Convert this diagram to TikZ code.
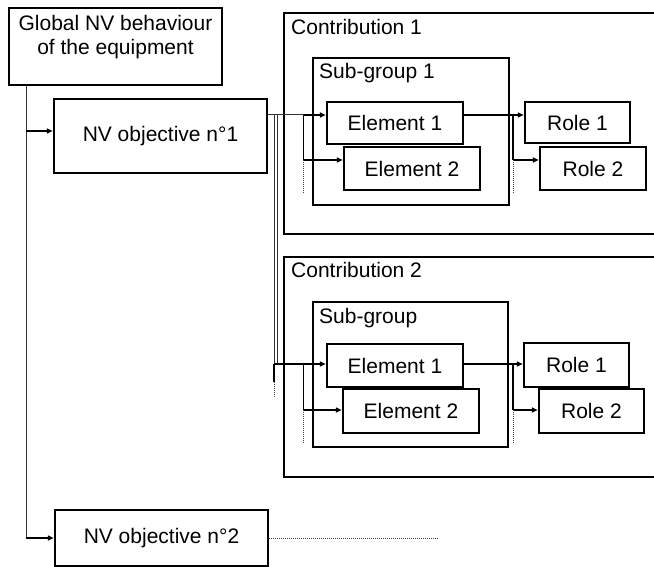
\documentclass[tikz,border=0pt]{standalone}
\usepackage{fontspec}
\setmainfont{Liberation Sans}
\usetikzlibrary{arrows.meta}
\begin{document}
\begin{tikzpicture}[x=1pt,y=-1pt,
  box/.style={draw, line width=2.5pt, inner sep=0pt, font=\fontsize{21}{24}\selectfont},
  lbl/.style={inner sep=0pt, anchor=base west, font=\fontsize{21}{24}\selectfont},
  thinline/.style={line width=1pt, draw=black!80},
  arr/.style={line width=1.6pt, -{Triangle[length=6pt,width=5pt]}},
  feed/.style={line width=1.6pt},
  dots/.style={line width=1pt, draw=black!75, dash pattern=on 1pt off 1pt}
]
\useasboundingbox (0,0) rectangle (654,567);
\clip (0,0) rectangle (654,567);

% left column
\node[box, minimum width=213pt, minimum height=77pt] (glob) at (115.5,46.5) {};
\node[inner sep=0pt, align=center, font=\fontsize{21}{23.5}\selectfont] (globtxt) at (115.5,37) {Global NV behaviour\\of the equipment};
\node[box, minimum width=213pt, minimum height=74pt] (obj1) at (160.5,136) {NV objective n°1};
\node[box, minimum width=213pt, minimum height=56pt] (obj2) at (161.5,538) {NV objective n°2};

% contribution 1
\node[box, minimum width=396pt, minimum height=221pt] (c1) at (482,123.5) {};
\node[lbl] (c1txt) at (291,35) {Contribution 1};
\node[box, minimum width=196pt, minimum height=147pt] (sg1) at (411,131.5) {};
\node[lbl] (sg1txt) at (319,79) {Sub-group 1};
\node[box, minimum width=136pt, minimum height=42pt] (e11) at (395,123) {Element 1};
\node[box, minimum width=136pt, minimum height=43pt] (e12) at (412,168.5) {Element 2};
\node[box, minimum width=105pt, minimum height=41pt] (r11) at (577.5,122.5) {Role 1};
\node[box, minimum width=106pt, minimum height=43pt] (r12) at (593,168.5) {Role 2};

% contribution 2
\node[box, minimum width=396pt, minimum height=220pt] (c2) at (482,367) {};
\node[lbl] (c2txt) at (291,277) {Contribution 2};
\node[box, minimum width=195pt, minimum height=145pt] (sg2) at (410.5,374.5) {};
\node[lbl] (sg2txt) at (319,323) {Sub-group};
\node[box, minimum width=136pt, minimum height=43pt] (e21) at (395,365.5) {Element 1};
\node[box, minimum width=136pt, minimum height=44pt] (e22) at (411,411) {Element 2};
\node[box, minimum width=105pt, minimum height=44pt] (r21) at (576.5,365) {Role 1};
\node[box, minimum width=105pt, minimum height=44pt] (r22) at (591.5,411) {Role 2};

% helper coordinates
\coordinate (trunk) at (26,0);
\coordinate (ya) at (0,131);
\coordinate (bus) at (274,0);
\coordinate (busb) at (277.5,0);
\coordinate (br1) at (303.5,0);
\coordinate (br2) at (513,0);
\coordinate (lvl1) at (0,115);
\coordinate (lvl1b) at (0,160);
\coordinate (lvl2) at (0,364);
\coordinate (lvl2b) at (0,410);
\coordinate (d1) at (0,194);
\coordinate (d2) at (0,443);
\coordinate (s2) at (0,382);
\coordinate (s2e) at (0,398);
\coordinate (dotend) at (438,0);

% trunk
\draw[thinline] (trunk |- glob.south) -- (trunk |- obj2.west);
\draw[arr] (trunk |- ya) -- (obj1.west |- ya);
\draw[arr] (trunk |- obj2.west) -- (obj2.west);
\draw[dots] (obj2.east) -- (dotend |- obj2.east);

% bus from objective 1
\draw[thinline] (obj1.east |- lvl1) -- (br1 |- lvl1);
\draw[thinline] (bus |- lvl1) -- (bus |- lvl2);
\draw[thinline] (busb |- lvl1) -- (busb |- lvl2);

% contribution 1 links
\draw[arr] (br1 |- lvl1) -- (e11.west |- lvl1);
\draw[feed] (br1 |- lvl1) -- (br1 |- lvl1b);
\draw[arr] (br1 |- lvl1b) -- (e12.west |- lvl1b);
\draw[dots] (br1 |- lvl1b) -- (br1 |- d1);
\draw[arr] (e11.east |- lvl1) -- (r11.west |- lvl1);
\draw[feed] (br2 |- lvl1) -- (br2 |- lvl1b);
\draw[arr] (br2 |- lvl1b) -- (r12.west |- lvl1b);
\draw[dots] (br2 |- lvl1b) -- (br2 |- d1);

% contribution 2 links
\draw[arr] (bus |- lvl2) -- (e21.west |- lvl2);
\draw[feed] (bus |- lvl2) -- (bus |- s2);
\draw[dots] (bus |- s2) -- (bus |- s2e);
\draw[feed] (br1 |- lvl2) -- (br1 |- lvl2b);
\draw[arr] (br1 |- lvl2b) -- (e22.west |- lvl2b);
\draw[dots] (br1 |- lvl2b) -- (br1 |- d2);
\draw[arr] (e21.east |- lvl2) -- (r21.west |- lvl2);
\draw[feed] (br2 |- lvl2) -- (br2 |- lvl2b);
\draw[arr] (br2 |- lvl2b) -- (r22.west |- lvl2b);
\draw[dots] (br2 |- lvl2b) -- (br2 |- d2);
\end{tikzpicture}
\end{document}
